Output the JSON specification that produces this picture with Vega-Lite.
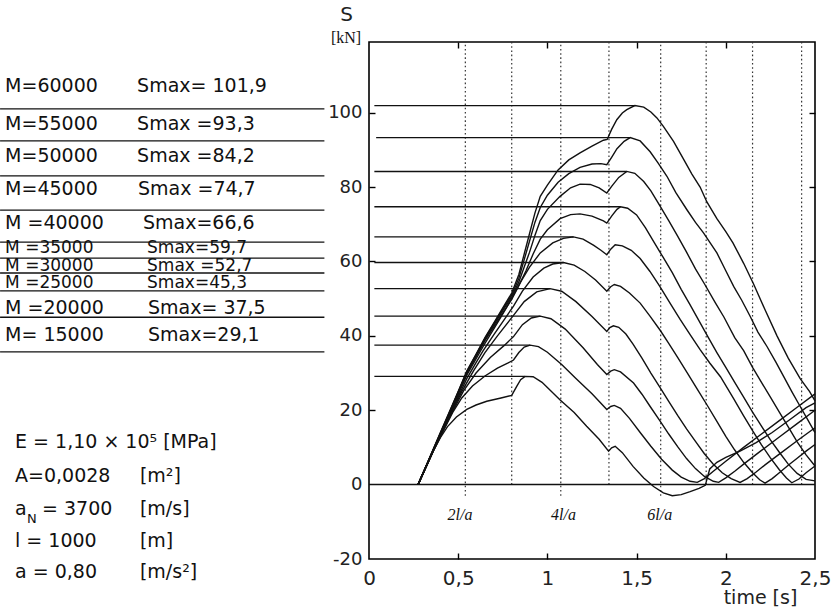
{
"$schema": "https://vega.github.io/schema/vega-lite/v6.json",
"width": 446, "height": 517,
"autosize": {"type": "none"},
"padding": {"left": 369, "top": 42, "right": 17, "bottom": 51},
"background": "white",
"config": {"view": {"stroke": "#000", "strokeWidth": 1.6}, "font": "DejaVu Sans"},
"resolve": {"axis": {"x": "independent", "y": "independent"}},
"datasets": {
"curves": [
{"M":60000,"t":0.275,"S":0},{"M":60000,"t":0.32,"S":5},{"M":60000,"t":0.36,"S":9.5},{"M":60000,"t":0.40,"S":14},{"M":60000,"t":0.45,"S":19.5},{"M":60000,"t":0.50,"S":25},{"M":60000,"t":0.548,"S":30.5},{"M":60000,"t":0.60,"S":35},{"M":60000,"t":0.65,"S":39.5},{"M":60000,"t":0.70,"S":43.5},{"M":60000,"t":0.75,"S":47.5},{"M":60000,"t":0.80,"S":51.5},{"M":60000,"t":0.84,"S":56.5},{"M":60000,"t":0.87,"S":62},{"M":60000,"t":0.90,"S":67.5},{"M":60000,"t":0.93,"S":73},{"M":60000,"t":0.96,"S":77.5},{"M":60000,"t":1.0,"S":80.5},{"M":60000,"t":1.06,"S":84.6},{"M":60000,"t":1.12,"S":87.3},{"M":60000,"t":1.183,"S":89.2},{"M":60000,"t":1.25,"S":91},{"M":60000,"t":1.314,"S":92.6},{"M":60000,"t":1.335,"S":92.8},{"M":60000,"t":1.36,"S":95.5},{"M":60000,"t":1.389,"S":98.1},{"M":60000,"t":1.42,"S":99.9},{"M":60000,"t":1.445,"S":100.8},{"M":60000,"t":1.49,"S":101.9},{"M":60000,"t":1.54,"S":101.5},{"M":60000,"t":1.58,"S":100.2},{"M":60000,"t":1.614,"S":98.6},{"M":60000,"t":1.65,"S":96.3},{"M":60000,"t":1.707,"S":92.3},{"M":60000,"t":1.763,"S":87.5},{"M":60000,"t":1.81,"S":83.5},{"M":60000,"t":1.856,"S":80},{"M":60000,"t":1.894,"S":76},{"M":60000,"t":1.95,"S":71.5},{"M":60000,"t":2.0,"S":68},{"M":60000,"t":2.04,"S":65},{"M":60000,"t":2.1,"S":59.5},{"M":60000,"t":2.155,"S":54},{"M":60000,"t":2.22,"S":47},{"M":60000,"t":2.287,"S":40},{"M":60000,"t":2.35,"S":34},{"M":60000,"t":2.417,"S":28.5},{"M":60000,"t":2.47,"S":25},{"M":60000,"t":2.5,"S":22.5},

{"M":55000,"t":0.275,"S":0},{"M":55000,"t":0.36,"S":9.4},{"M":55000,"t":0.45,"S":19.3},{"M":55000,"t":0.548,"S":30.3},{"M":55000,"t":0.65,"S":39.3},{"M":55000,"t":0.75,"S":47.2},{"M":55000,"t":0.80,"S":51},{"M":55000,"t":0.84,"S":55.5},{"M":55000,"t":0.87,"S":60.5},{"M":55000,"t":0.90,"S":65.5},{"M":55000,"t":0.93,"S":70.5},{"M":55000,"t":0.96,"S":74.5},{"M":55000,"t":1.0,"S":77.8},{"M":55000,"t":1.06,"S":81.3},{"M":55000,"t":1.12,"S":83.6},{"M":55000,"t":1.183,"S":85.3},{"M":55000,"t":1.25,"S":86.2},{"M":55000,"t":1.30,"S":86.3},{"M":55000,"t":1.333,"S":86},{"M":55000,"t":1.36,"S":88},{"M":55000,"t":1.39,"S":90.3},{"M":55000,"t":1.43,"S":92.3},{"M":55000,"t":1.464,"S":93.3},{"M":55000,"t":1.52,"S":92.4},{"M":55000,"t":1.576,"S":89.5},{"M":55000,"t":1.62,"S":86.5},{"M":55000,"t":1.67,"S":82.9},{"M":55000,"t":1.72,"S":78.5},{"M":55000,"t":1.782,"S":73.9},{"M":55000,"t":1.83,"S":70.5},{"M":55000,"t":1.875,"S":67.7},{"M":55000,"t":1.95,"S":62.3},{"M":55000,"t":2.0,"S":57.5},{"M":55000,"t":2.044,"S":53.3},{"M":55000,"t":2.09,"S":49.5},{"M":55000,"t":2.137,"S":45.2},{"M":55000,"t":2.18,"S":41},{"M":55000,"t":2.23,"S":37.2},{"M":55000,"t":2.28,"S":33},{"M":55000,"t":2.324,"S":29.1},{"M":55000,"t":2.37,"S":25},{"M":55000,"t":2.417,"S":21},{"M":55000,"t":2.455,"S":17.8},{"M":55000,"t":2.5,"S":14},

{"M":50000,"t":0.275,"S":0},{"M":50000,"t":0.36,"S":9.3},{"M":50000,"t":0.45,"S":19.2},{"M":50000,"t":0.548,"S":30.1},{"M":50000,"t":0.65,"S":39.1},{"M":50000,"t":0.75,"S":46.8},{"M":50000,"t":0.80,"S":50.5},{"M":50000,"t":0.84,"S":54.5},{"M":50000,"t":0.87,"S":58.5},{"M":50000,"t":0.90,"S":62.5},{"M":50000,"t":0.93,"S":67},{"M":50000,"t":0.96,"S":71},{"M":50000,"t":1.0,"S":74},{"M":50000,"t":1.071,"S":77.5},{"M":50000,"t":1.13,"S":79.8},{"M":50000,"t":1.183,"S":80.8},{"M":50000,"t":1.24,"S":80.7},{"M":50000,"t":1.29,"S":79.8},{"M":50000,"t":1.333,"S":78.4},{"M":50000,"t":1.36,"S":80.2},{"M":50000,"t":1.40,"S":82.6},{"M":50000,"t":1.445,"S":84.2},{"M":50000,"t":1.49,"S":83.7},{"M":50000,"t":1.54,"S":81.5},{"M":50000,"t":1.58,"S":79},{"M":50000,"t":1.63,"S":75},{"M":50000,"t":1.68,"S":71},{"M":50000,"t":1.73,"S":66.8},{"M":50000,"t":1.78,"S":62.5},{"M":50000,"t":1.83,"S":58},{"M":50000,"t":1.88,"S":54},{"M":50000,"t":1.94,"S":49},{"M":50000,"t":1.99,"S":45},{"M":50000,"t":2.05,"S":39.5},{"M":50000,"t":2.1,"S":36},{"M":50000,"t":2.15,"S":31.5},{"M":50000,"t":2.2,"S":27.5},{"M":50000,"t":2.25,"S":23.5},{"M":50000,"t":2.3,"S":19.5},{"M":50000,"t":2.35,"S":15.5},{"M":50000,"t":2.4,"S":11.5},{"M":50000,"t":2.45,"S":8},{"M":50000,"t":2.5,"S":5},

{"M":45000,"t":0.275,"S":0},{"M":45000,"t":0.36,"S":9.3},{"M":45000,"t":0.45,"S":19},{"M":45000,"t":0.548,"S":29.8},{"M":45000,"t":0.65,"S":38.7},{"M":45000,"t":0.75,"S":46.2},{"M":45000,"t":0.80,"S":49.8},{"M":45000,"t":0.84,"S":53.5},{"M":45000,"t":0.88,"S":57.5},{"M":45000,"t":0.92,"S":62},{"M":45000,"t":0.96,"S":66},{"M":45000,"t":1.0,"S":68.5},{"M":45000,"t":1.071,"S":71.5},{"M":45000,"t":1.13,"S":72.6},{"M":45000,"t":1.183,"S":72.8},{"M":45000,"t":1.25,"S":72.2},{"M":45000,"t":1.314,"S":70.9},{"M":45000,"t":1.333,"S":70.3},{"M":45000,"t":1.36,"S":72.2},{"M":45000,"t":1.39,"S":74},{"M":45000,"t":1.41,"S":74.7},{"M":45000,"t":1.45,"S":74.3},{"M":45000,"t":1.50,"S":72.5},{"M":45000,"t":1.55,"S":69},{"M":45000,"t":1.60,"S":65},{"M":45000,"t":1.65,"S":61},{"M":45000,"t":1.70,"S":57},{"M":45000,"t":1.75,"S":52.5},{"M":45000,"t":1.80,"S":48.3},{"M":45000,"t":1.85,"S":44},{"M":45000,"t":1.90,"S":39.7},{"M":45000,"t":1.95,"S":35.5},{"M":45000,"t":2.0,"S":31.5},{"M":45000,"t":2.05,"S":27.5},{"M":45000,"t":2.1,"S":23.5},{"M":45000,"t":2.15,"S":19.5},{"M":45000,"t":2.2,"S":15.7},{"M":45000,"t":2.25,"S":12},{"M":45000,"t":2.3,"S":8.7},{"M":45000,"t":2.35,"S":5.5},{"M":45000,"t":2.4,"S":3},{"M":45000,"t":2.45,"S":1.4},{"M":45000,"t":2.5,"S":1},

{"M":40000,"t":0.275,"S":0},{"M":40000,"t":0.36,"S":9.2},{"M":40000,"t":0.45,"S":18.8},{"M":40000,"t":0.548,"S":29.4},{"M":40000,"t":0.65,"S":38},{"M":40000,"t":0.72,"S":43.5},{"M":40000,"t":0.77,"S":47.5},{"M":40000,"t":0.81,"S":51},{"M":40000,"t":0.85,"S":54.5},{"M":40000,"t":0.9,"S":58.5},{"M":40000,"t":0.96,"S":62.3},{"M":40000,"t":1.03,"S":65},{"M":40000,"t":1.09,"S":66.2},{"M":40000,"t":1.146,"S":66.6},{"M":40000,"t":1.2,"S":66},{"M":40000,"t":1.26,"S":64.3},{"M":40000,"t":1.30,"S":63},{"M":40000,"t":1.333,"S":61.8},{"M":40000,"t":1.355,"S":63.3},{"M":40000,"t":1.38,"S":64.5},{"M":40000,"t":1.42,"S":64.2},{"M":40000,"t":1.47,"S":63},{"M":40000,"t":1.52,"S":60.8},{"M":40000,"t":1.575,"S":57.3},{"M":40000,"t":1.63,"S":53.3},{"M":40000,"t":1.69,"S":48.6},{"M":40000,"t":1.744,"S":44.4},{"M":40000,"t":1.80,"S":40.3},{"M":40000,"t":1.856,"S":36.3},{"M":40000,"t":1.91,"S":32.7},{"M":40000,"t":1.97,"S":29},{"M":40000,"t":2.043,"S":23.2},{"M":40000,"t":2.1,"S":18.5},{"M":40000,"t":2.15,"S":14.5},{"M":40000,"t":2.2,"S":10.7},{"M":40000,"t":2.25,"S":7.2},{"M":40000,"t":2.3,"S":4},{"M":40000,"t":2.34,"S":1.8},{"M":40000,"t":2.37,"S":0.5},{"M":40000,"t":2.41,"S":1.5},{"M":40000,"t":2.45,"S":3.2},{"M":40000,"t":2.5,"S":5},

{"M":35000,"t":0.275,"S":0},{"M":35000,"t":0.36,"S":9.2},{"M":35000,"t":0.45,"S":18.5},{"M":35000,"t":0.548,"S":28.5},{"M":35000,"t":0.60,"S":32.8},{"M":35000,"t":0.64,"S":36},{"M":35000,"t":0.70,"S":40.3},{"M":35000,"t":0.76,"S":44.5},{"M":35000,"t":0.81,"S":48},{"M":35000,"t":0.86,"S":52},{"M":35000,"t":0.92,"S":55.8},{"M":35000,"t":0.98,"S":58.2},{"M":35000,"t":1.03,"S":59.3},{"M":35000,"t":1.09,"S":59.7},{"M":35000,"t":1.15,"S":59},{"M":35000,"t":1.21,"S":57.3},{"M":35000,"t":1.27,"S":55},{"M":35000,"t":1.333,"S":52},{"M":35000,"t":1.355,"S":53.2},{"M":35000,"t":1.375,"S":53.8},{"M":35000,"t":1.41,"S":53.3},{"M":35000,"t":1.46,"S":51.5},{"M":35000,"t":1.52,"S":48.8},{"M":35000,"t":1.575,"S":45.3},{"M":35000,"t":1.632,"S":41.5},{"M":35000,"t":1.68,"S":38},{"M":35000,"t":1.73,"S":34.2},{"M":35000,"t":1.79,"S":29.6},{"M":35000,"t":1.84,"S":25.7},{"M":35000,"t":1.9,"S":21},{"M":35000,"t":1.95,"S":17},{"M":35000,"t":2.0,"S":13},{"M":35000,"t":2.05,"S":9.3},{"M":35000,"t":2.1,"S":6},{"M":35000,"t":2.15,"S":3.2},{"M":35000,"t":2.19,"S":1.3},{"M":35000,"t":2.22,"S":0.4},{"M":35000,"t":2.26,"S":1.6},{"M":35000,"t":2.3,"S":3.2},{"M":35000,"t":2.35,"S":5.2},{"M":35000,"t":2.4,"S":7.1},{"M":35000,"t":2.45,"S":9},{"M":35000,"t":2.5,"S":10.8},

{"M":30000,"t":0.275,"S":0},{"M":30000,"t":0.36,"S":9.1},{"M":30000,"t":0.45,"S":18.3},{"M":30000,"t":0.52,"S":25},{"M":30000,"t":0.585,"S":30.5},{"M":30000,"t":0.65,"S":35.5},{"M":30000,"t":0.72,"S":40},{"M":30000,"t":0.81,"S":45.5},{"M":30000,"t":0.87,"S":49.2},{"M":30000,"t":0.94,"S":51.8},{"M":30000,"t":1.015,"S":52.7},{"M":30000,"t":1.08,"S":52},{"M":30000,"t":1.16,"S":49.2},{"M":30000,"t":1.25,"S":45.2},{"M":30000,"t":1.333,"S":41.2},{"M":30000,"t":1.35,"S":42.2},{"M":30000,"t":1.37,"S":42.7},{"M":30000,"t":1.40,"S":42.3},{"M":30000,"t":1.44,"S":40.5},{"M":30000,"t":1.48,"S":37.8},{"M":30000,"t":1.53,"S":34},{"M":30000,"t":1.58,"S":30},{"M":30000,"t":1.63,"S":26.2},{"M":30000,"t":1.68,"S":22.4},{"M":30000,"t":1.73,"S":18.6},{"M":30000,"t":1.78,"S":15},{"M":30000,"t":1.83,"S":11.6},{"M":30000,"t":1.88,"S":8.3},{"M":30000,"t":1.93,"S":5.5},{"M":30000,"t":1.98,"S":3.2},{"M":30000,"t":2.03,"S":1.6},{"M":30000,"t":2.08,"S":0.6},{"M":30000,"t":2.12,"S":1.6},{"M":30000,"t":2.17,"S":3.4},{"M":30000,"t":2.22,"S":5.3},{"M":30000,"t":2.3,"S":8.2},{"M":30000,"t":2.4,"S":11.8},{"M":30000,"t":2.5,"S":15.3},

{"M":25000,"t":0.275,"S":0},{"M":25000,"t":0.36,"S":9},{"M":25000,"t":0.45,"S":18},{"M":25000,"t":0.53,"S":25.2},{"M":25000,"t":0.6,"S":30},{"M":25000,"t":0.68,"S":34.2},{"M":25000,"t":0.76,"S":37.5},{"M":25000,"t":0.81,"S":39.8},{"M":25000,"t":0.86,"S":43},{"M":25000,"t":0.91,"S":44.8},{"M":25000,"t":0.96,"S":45.3},{"M":25000,"t":1.02,"S":44.6},{"M":25000,"t":1.1,"S":41.8},{"M":25000,"t":1.2,"S":36.8},{"M":25000,"t":1.28,"S":32.3},{"M":25000,"t":1.333,"S":29.6},{"M":25000,"t":1.355,"S":30.5},{"M":25000,"t":1.375,"S":30.9},{"M":25000,"t":1.41,"S":30.3},{"M":25000,"t":1.483,"S":27.3},{"M":25000,"t":1.53,"S":24.3},{"M":25000,"t":1.576,"S":21},{"M":25000,"t":1.63,"S":17.2},{"M":25000,"t":1.68,"S":13.6},{"M":25000,"t":1.73,"S":10.2},{"M":25000,"t":1.78,"S":7},{"M":25000,"t":1.83,"S":4.3},{"M":25000,"t":1.88,"S":2.2},{"M":25000,"t":1.93,"S":0.9},{"M":25000,"t":1.96,"S":0.6},{"M":25000,"t":2.0,"S":1.8},{"M":25000,"t":2.05,"S":3.6},{"M":25000,"t":2.1,"S":5.5},{"M":25000,"t":2.2,"S":9.2},{"M":25000,"t":2.3,"S":12.8},{"M":25000,"t":2.4,"S":16.4},{"M":25000,"t":2.5,"S":20},

{"M":20000,"t":0.275,"S":0},{"M":20000,"t":0.36,"S":9},{"M":20000,"t":0.42,"S":14.8},{"M":20000,"t":0.47,"S":19.5},{"M":20000,"t":0.52,"S":23.3},{"M":20000,"t":0.58,"S":26.5},{"M":20000,"t":0.65,"S":29.2},{"M":20000,"t":0.72,"S":31.3},{"M":20000,"t":0.78,"S":32.7},{"M":20000,"t":0.81,"S":33.5},{"M":20000,"t":0.84,"S":35.5},{"M":20000,"t":0.87,"S":37},{"M":20000,"t":0.903,"S":37.5},{"M":20000,"t":0.95,"S":37.1},{"M":20000,"t":1.0,"S":35.6},{"M":20000,"t":1.08,"S":32.3},{"M":20000,"t":1.16,"S":28.5},{"M":20000,"t":1.25,"S":24.4},{"M":20000,"t":1.333,"S":20.2},{"M":20000,"t":1.355,"S":21},{"M":20000,"t":1.375,"S":21.3},{"M":20000,"t":1.41,"S":20.5},{"M":20000,"t":1.46,"S":17.8},{"M":20000,"t":1.52,"S":14},{"M":20000,"t":1.58,"S":10.3},{"M":20000,"t":1.64,"S":6.8},{"M":20000,"t":1.7,"S":3.9},{"M":20000,"t":1.75,"S":2},{"M":20000,"t":1.8,"S":0.9},{"M":20000,"t":1.84,"S":0.6},{"M":20000,"t":1.88,"S":1.6},{"M":20000,"t":1.93,"S":3.6},{"M":20000,"t":2.0,"S":6.3},{"M":20000,"t":2.1,"S":10},{"M":20000,"t":2.2,"S":13.6},{"M":20000,"t":2.3,"S":17.2},{"M":20000,"t":2.4,"S":20.8},{"M":20000,"t":2.5,"S":24.4},

{"M":15000,"t":0.275,"S":0},{"M":15000,"t":0.36,"S":9},{"M":15000,"t":0.40,"S":12.6},{"M":15000,"t":0.44,"S":15.6},{"M":15000,"t":0.49,"S":18.2},{"M":15000,"t":0.548,"S":20.2},{"M":15000,"t":0.6,"S":21.4},{"M":15000,"t":0.66,"S":22.4},{"M":15000,"t":0.74,"S":23.3},{"M":15000,"t":0.80,"S":24},{"M":15000,"t":0.828,"S":26.4},{"M":15000,"t":0.85,"S":28.2},{"M":15000,"t":0.875,"S":29.1},{"M":15000,"t":0.92,"S":29},{"M":15000,"t":0.97,"S":27.5},{"M":15000,"t":1.02,"S":25.2},{"M":15000,"t":1.07,"S":22.8},{"M":15000,"t":1.15,"S":19.4},{"M":15000,"t":1.22,"S":15.7},{"M":15000,"t":1.29,"S":12.2},{"M":15000,"t":1.343,"S":9},{"M":15000,"t":1.36,"S":9.9},{"M":15000,"t":1.38,"S":10.3},{"M":15000,"t":1.42,"S":8.6},{"M":15000,"t":1.48,"S":4.9},{"M":15000,"t":1.54,"S":1.8},{"M":15000,"t":1.595,"S":-0.5},{"M":15000,"t":1.65,"S":-2.2},{"M":15000,"t":1.70,"S":-3},{"M":15000,"t":1.75,"S":-2.7},{"M":15000,"t":1.80,"S":-1.9},{"M":15000,"t":1.85,"S":-1},{"M":15000,"t":1.885,"S":-0.2},{"M":15000,"t":1.91,"S":4.2},{"M":15000,"t":1.95,"S":6},{"M":15000,"t":2.0,"S":7.3},{"M":15000,"t":2.08,"S":9},{"M":15000,"t":2.17,"S":11.3},{"M":15000,"t":2.26,"S":14},{"M":15000,"t":2.36,"S":17.5},{"M":15000,"t":2.45,"S":20.7},{"M":15000,"t":2.5,"S":22}
],
"smax": [
{"S":101.9,"t":0.03,"t2":1.49},{"S":93.3,"t":0.04,"t2":1.464},{"S":84.2,"t":0.03,"t2":1.445},{"S":74.7,"t":0.03,"t2":1.41},{"S":66.6,"t":0.03,"t2":1.146},{"S":59.7,"t":0.03,"t2":1.09},{"S":52.7,"t":0.03,"t2":1.015},{"S":45.3,"t":0.03,"t2":0.96},{"S":37.5,"t":0.03,"t2":0.903},{"S":29.1,"t":0.03,"t2":0.875}
],
"vlines": [
{"t":0.54,"S":-3,"S2":119},{"t":0.80,"S":0,"S2":119},{"t":1.075,"S":-3,"S2":119},{"t":1.345,"S":0,"S2":119},{"t":1.635,"S":-3,"S2":119},{"t":1.89,"S":0,"S2":119},{"t":2.15,"S":0,"S2":119},{"t":2.425,"S":0,"S2":119}
],
"table": [
{"t":-2.04,"S":107.2,"label":"M=60000"},{"t":-1.30,"S":107.2,"label":"Smax= 101,9"},
{"t":-2.04,"S":97.0,"label":"M=55000"},{"t":-1.30,"S":97.0,"label":"Smax =93,3"},
{"t":-2.04,"S":88.4,"label":"M=50000"},{"t":-1.30,"S":88.4,"label":"Smax =84,2"},
{"t":-2.04,"S":79.5,"label":"M=45000"},{"t":-1.295,"S":79.5,"label":"Smax =74,7"},
{"t":-2.04,"S":70.4,"label":"M =40000"},{"t":-1.267,"S":70.4,"label":"Smax=66,6"},
{"t":-2.04,"S":47.5,"label":"M =20000"},{"t":-1.239,"S":47.5,"label":"Smax= 37,5"},
{"t":-2.04,"S":40.3,"label":"M= 15000"},{"t":-1.239,"S":40.3,"label":"Smax=29,1"}
],
"tablesmall": [
{"t":-2.04,"S":63.6,"label":"M =35000"},{"t":-1.244,"S":63.6,"label":"Smax=59,7"},
{"t":-2.04,"S":58.9,"label":"M =30000"},{"t":-1.244,"S":58.9,"label":"Smax =52,7"},
{"t":-2.04,"S":54.2,"label":"M =25000"},{"t":-1.244,"S":54.2,"label":"Smax=45,3"}
],
"tablelines": [
{"t":-2.068,"t2":-0.25,"S":101.0},{"t":-2.068,"t2":-0.25,"S":92.4},{"t":-2.068,"t2":-0.25,"S":83.0},{"t":-2.068,"t2":-0.25,"S":73.8},{"t":-2.068,"t2":-0.25,"S":65.2},{"t":-2.068,"t2":-0.25,"S":60.9},{"t":-2.068,"t2":-0.25,"S":56.9},{"t":-2.068,"t2":-0.25,"S":52.1},{"t":-2.068,"t2":-0.25,"S":45.0},{"t":-2.068,"t2":-0.25,"S":35.7}
],
"params": [
{"t":-1.984,"S":11.5,"label":"E = 1,10 × 10⁵ [MPa]"},
{"t":-1.984,"S":2.3,"label":"A=0,0028"},{"t":-1.284,"S":2.3,"label":"[m²]"},
{"t":-1.984,"S":-6.5,"label":"a"},{"t":-1.833,"S":-6.5,"label":"= 3700"},{"t":-1.284,"S":-6.5,"label":"[m/s]"},
{"t":-1.984,"S":-15.2,"label":"l =  1000"},{"t":-1.284,"S":-15.2,"label":"[m]"},
{"t":-1.984,"S":-23.5,"label":"a = 0,80"},{"t":-1.284,"S":-23.5,"label":"[m/s²]"}
]
},
"layer": [
{
"data": {"name": "vlines"},
"mark": {"type": "rule", "strokeDash": [1.6, 2.6], "strokeWidth": 1.2, "color": "#333"},
"encoding": {
"x": {"field": "t", "type": "quantitative", "scale": {"domain": [0, 2.5], "nice": false, "zero": false},
"axis": {"orient": "top", "offset": -517, "values": [0.5, 1, 1.5, 2], "labels": false, "tickSize": 6, "tickColor": "#000", "tickWidth": 1.4, "domain": false, "grid": false, "title": null}},
"y": {"field": "S", "type": "quantitative", "scale": {"domain": [-20, 119], "nice": false, "zero": false}, "axis": null},
"y2": {"field": "S2"}
}
},
{
"data": {"values": [{"S": 0}]},
"mark": {"type": "rule", "strokeWidth": 1.5, "color": "#111"},
"encoding": {
"y": {"field": "S", "type": "quantitative", "scale": {"domain": [-20, 119], "nice": false, "zero": false},
"axis": {"orient": "right", "offset": -446, "values": [20, 40, 60, 80, 100], "labels": false, "tickSize": 6, "tickColor": "#000", "tickWidth": 1.4, "domain": false, "grid": false, "title": null}}
}
},
{
"data": {"name": "smax"},
"mark": {"type": "rule", "strokeWidth": 1.4, "color": "#111"},
"encoding": {
"x": {"field": "t", "type": "quantitative", "scale": {"domain": [0, 2.5], "nice": false, "zero": false},
"axis": {"orient": "bottom", "offset": -517, "values": [0.5, 1, 1.5, 2], "labels": false, "tickSize": 6, "tickColor": "#000", "tickWidth": 1.4, "domain": false, "grid": false, "title": null}},
"x2": {"field": "t2"},
"y": {"field": "S", "type": "quantitative", "scale": {"domain": [-20, 119], "nice": false, "zero": false},
"axis": {"orient": "left", "offset": -446, "values": [20, 40, 60, 80, 100], "labels": false, "tickSize": 6, "tickColor": "#000", "tickWidth": 1.4, "domain": false, "grid": false, "title": null}}
}
},
{
"data": {"name": "curves"},
"mark": {"type": "line", "strokeWidth": 1.4, "color": "#111"},
"encoding": {
"x": {"field": "t", "type": "quantitative", "scale": {"domain": [0, 2.5], "nice": false, "zero": false},
"axis": {"orient": "bottom", "values": [0, 0.5, 1, 1.5, 2, 2.5], "labelExpr": "replace(format(datum.value, '.1~f'), '.', ',')", "tickSize": -5, "tickOpacity": 0, "labelPadding": 14, "labelFontSize": 20, "labelColor": "#222", "labelFont": "DejaVu Sans", "labelFlush": false, "domain": false, "grid": false,
"title": "time [s]", "titleFont": "DejaVu Sans", "titleFontSize": 19, "titleFontWeight": "normal", "titleColor": "#222", "titleX": 391, "titleY": 38, "titleAlign": "center", "titleBaseline": "middle"}},
"y": {"field": "S", "type": "quantitative", "scale": {"domain": [-20, 119], "nice": false, "zero": false},
"axis": {"orient": "left", "values": [-20, 0, 20, 40, 60, 80, 100], "labelExpr": "datum.value < 0 ? '-' + (-datum.value) : '' + datum.value", "tickSize": -6, "tickOpacity": 0, "labelPadding": 13, "labelFontSize": 18, "labelColor": "#222", "labelFont": "DejaVu Sans", "labelFlush": false, "domain": false, "grid": false,
"title": "S", "titleAngle": 0, "titleFont": "DejaVu Sans", "titleFontSize": 20, "titleFontWeight": "normal", "titleColor": "#222", "titleX": -23, "titleY": -28, "titleAlign": "center", "titleBaseline": "middle"}},
"detail": {"field": "M", "type": "nominal"}
}
},
{
"data": {"name": "tablelines"},
"mark": {"type": "rule", "strokeWidth": 1.3, "color": "#111"},
"encoding": {
"x": {"field": "t", "type": "quantitative", "scale": {"domain": [0, 2.5], "nice": false, "zero": false}, "axis": null},
"x2": {"field": "t2"},
"y": {"field": "S", "type": "quantitative", "scale": {"domain": [-20, 119], "nice": false, "zero": false}, "axis": null}
}
},
{
"data": {"name": "table"},
"mark": {"type": "text", "align": "left", "baseline": "middle", "fontSize": 19, "font": "DejaVu Sans", "color": "#111"},
"encoding": {
"x": {"field": "t", "type": "quantitative", "scale": {"domain": [0, 2.5], "nice": false, "zero": false}, "axis": null},
"y": {"field": "S", "type": "quantitative", "scale": {"domain": [-20, 119], "nice": false, "zero": false}, "axis": null},
"text": {"field": "label"}
}
},
{
"data": {"name": "tablesmall"},
"mark": {"type": "text", "align": "left", "baseline": "middle", "fontSize": 17, "font": "DejaVu Sans", "color": "#111"},
"encoding": {
"x": {"field": "t", "type": "quantitative", "scale": {"domain": [0, 2.5], "nice": false, "zero": false}, "axis": null},
"y": {"field": "S", "type": "quantitative", "scale": {"domain": [-20, 119], "nice": false, "zero": false}, "axis": null},
"text": {"field": "label"}
}
},
{
"data": {"name": "params"},
"mark": {"type": "text", "align": "left", "baseline": "middle", "fontSize": 19, "font": "DejaVu Sans", "color": "#111"},
"encoding": {
"x": {"field": "t", "type": "quantitative", "scale": {"domain": [0, 2.5], "nice": false, "zero": false}, "axis": null},
"y": {"field": "S", "type": "quantitative", "scale": {"domain": [-20, 119], "nice": false, "zero": false}, "axis": null},
"text": {"field": "label"}
}
},
{
"data": {"values": [{"t": -1.917, "S": -9.2, "label": "N"}]},
"mark": {"type": "text", "align": "left", "baseline": "middle", "fontSize": 13, "font": "DejaVu Sans", "color": "#111"},
"encoding": {
"x": {"field": "t", "type": "quantitative", "scale": {"domain": [0, 2.5], "nice": false, "zero": false}, "axis": null},
"y": {"field": "S", "type": "quantitative", "scale": {"domain": [-20, 119], "nice": false, "zero": false}, "axis": null},
"text": {"field": "label"}
}
},
{
"data": {"values": [{"t": 0.51, "S": -8.2, "label": "2l/a"}, {"t": 1.09, "S": -8.2, "label": "4l/a"}, {"t": 1.63, "S": -8.2, "label": "6l/a"}]},
"mark": {"type": "text", "align": "center", "baseline": "middle", "fontSize": 16, "font": "Liberation Serif", "fontStyle": "italic", "color": "#111"},
"encoding": {
"x": {"field": "t", "type": "quantitative", "scale": {"domain": [0, 2.5], "nice": false, "zero": false}, "axis": null},
"y": {"field": "S", "type": "quantitative", "scale": {"domain": [-20, 119], "nice": false, "zero": false}, "axis": null},
"text": {"field": "label"}
}
},
{
"data": {"values": [{"t": -0.129, "S": 120.1, "label": "[kN]"}]},
"mark": {"type": "text", "align": "center", "baseline": "middle", "fontSize": 16, "font": "Liberation Serif", "color": "#111"},
"encoding": {
"x": {"field": "t", "type": "quantitative", "scale": {"domain": [0, 2.5], "nice": false, "zero": false}, "axis": null},
"y": {"field": "S", "type": "quantitative", "scale": {"domain": [-20, 119], "nice": false, "zero": false}, "axis": null},
"text": {"field": "label"}
}
}
]
}
